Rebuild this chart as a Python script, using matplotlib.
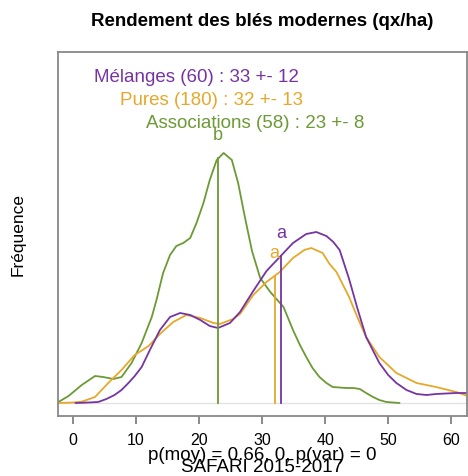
import matplotlib.pyplot as plt

plt.rcParams['font.family'] = ['Liberation Sans', 'DejaVu Sans']

# density curves (relative units, 0 = baseline)
assoc_x = [-2.3, -0.7, 1.4, 3.5, 4.8, 6.4, 7.7, 9.3, 10.9, 12.5, 13.25, 14.3, 15.4, 16.4,
           17.5, 18.6, 19.6, 20.7, 21.7, 22.8, 23.9, 25.2, 26.2, 27.3, 28.4, 29.7, 31.3,
           33.4, 34.9, 36.0, 37.0, 38.0, 39.1, 40.2, 41.2, 43.3, 44.5, 45.5, 46.5, 47.6,
           48.6, 49.7, 51.8]
assoc_y = [1, 7, 18, 27, 26, 24, 26, 40, 60, 86, 103, 130, 148, 157,
           160, 165, 180, 200, 223, 243, 250, 243, 220, 185, 152, 125, 111,
           96, 73, 58, 46, 35, 26, 20, 16, 15, 15, 14, 10, 6,
           3, 1, 0]

pures_x = [-2.4, 0.0, 1.4, 3.5, 5.6, 7.7, 9.8, 12.0, 13.8, 15.9, 18.0, 20.2, 22.3, 23.3,
           25.4, 26.5, 28.6, 30.7, 32.8, 34.9, 36.7, 37.8, 39.6, 40.7, 41.8, 43.8, 45.1,
           46.5, 48.6, 51.3, 54.5, 57.6, 60.8, 62.6]
pures_y = [0, 0.5, 1.3, 6, 20, 33, 48, 57, 69, 81, 88, 85, 80, 79,
           84, 89, 108, 121, 131, 145, 153, 155, 150, 139, 131, 106, 86,
           66, 46, 30, 20, 16, 11, 7]

melanges_x = [0.4, 2.5, 4.0, 5.3, 6.6, 7.7, 8.8, 9.8, 10.9, 12.2, 13.8, 15.4, 17.0, 18.6,
              20.2, 21.7, 23.0, 24.9, 26.5, 28.6, 30.7, 32.8, 34.9, 37.0, 38.6, 40.2,
              41.3, 42.3, 43.8, 45.1, 46.5, 48.6, 50.0, 51.3, 52.9, 54.5, 56.1, 57.6,
              60.8, 62.6]
melanges_y = [0, 0.5, 1, 4, 8, 13, 20, 27, 36, 53, 73, 86, 90, 88,
              83, 77, 75, 80, 91, 112, 132, 146, 160, 169, 171, 167,
              161, 153, 124, 95, 66, 40, 28, 20, 13, 9, 8, 9,
              10, 10]

# means, density at mean, and letters
means = [33, 32, 23]
mean_heights = [147, 127, 245]
letters = ['a', 'a', 'b']
labels = ['Mélanges (60) : 33 +- 12', 'Pures (180) : 32 +- 13', 'Associations (58) : 23 +- 8']
colors = ['#7634a3', '#e6a82b', '#6c9a35']

fig = plt.figure(figsize=(4.68, 4.76), dpi=100)
ax = fig.add_axes([58 / 468, 1 - 416 / 476, (467 - 58) / 468, (416 - 52) / 476])

ax.axhline(0, color='#e3e3e3', lw=1, zorder=0)
line_style = dict(lw=1.3, solid_joinstyle='round', solid_capstyle='round')
ax.plot(assoc_x, assoc_y, color=colors[2], **line_style)
ax.plot(pures_x, pures_y, color=colors[1], **line_style)
ax.plot(melanges_x, melanges_y, color=colors[0], **line_style)

for m, h, let, c in zip(means, mean_heights, letters, colors):
    ax.plot([m, m], [0, h], color=c, lw=1.3)
    ax.text(m, h + 22, let, color=c, ha='center', va='center', fontsize=13)

ax.set_xlim(-2.37, 62.5)
ax.set_ylim(-13, 351)
ax.set_xticks([0, 10, 20, 30, 40, 50, 60])
ax.set_yticks([])
ax.tick_params(axis='x', length=6, width=1.2, color='#777777', pad=6, labelsize=11.5)
for s in ax.spines.values():
    s.set_color('#888888')
    s.set_linewidth(1.3)

for i, (lab, c) in enumerate(zip(labels, colors)):
    fig.text((95 + 26 * i - 1) / 468, 1 - (77 + 23.5 * i) / 476, lab, color=c,
             ha='left', va='center', fontsize=13.5)

fig.text(262.5 / 468, 1 - 22 / 476, 'Rendement des blés modernes (qx/ha)',
         ha='center', va='center', fontsize=13.5, fontweight='bold')
fig.text(18 / 468, 1 - 235 / 476, 'Fréquence', rotation=90,
         ha='center', va='center', fontsize=12.5)
fig.text(262.5 / 468, 1 - 455 / 476, 'p(moy) = 0.66, 0, p(var) = 0',
         ha='center', va='center', fontsize=13.5)
fig.text(262.5 / 468, 1 - 468 / 476, 'SAFARI 2015-2017',
         ha='center', va='center', fontsize=13.5)

fig.savefig('out.png', dpi=100)
